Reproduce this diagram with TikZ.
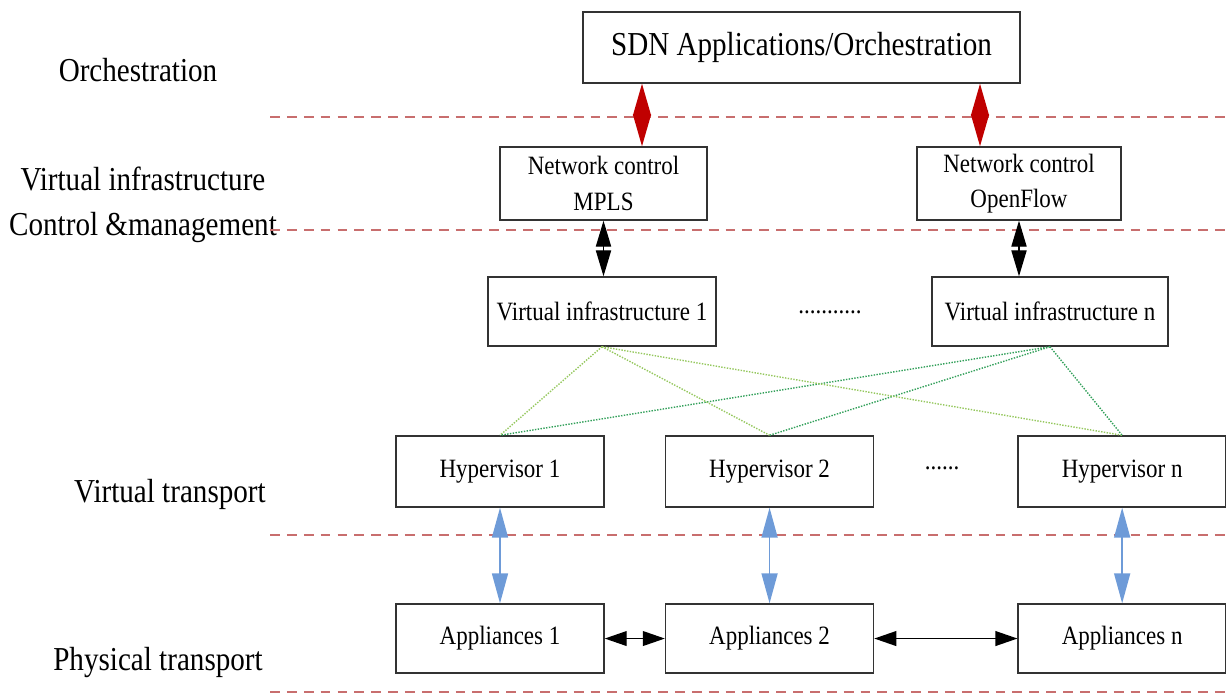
\documentclass[tikz,border=0pt]{standalone}
\usepackage{fontspec}
\setmainfont{Liberation Serif}[FakeStretch=0.87]
\usetikzlibrary{positioning, arrows.meta}
\definecolor{sepred}{RGB}{200,110,110}
\definecolor{darkred}{RGB}{192,0,0}
\definecolor{linkblue}{RGB}{110,155,216}
\definecolor{lightgreen}{RGB}{150,200,95}
\definecolor{deepgreen}{RGB}{50,160,90}

\begin{document}
\begin{tikzpicture}[x=0.025cm,y=-0.025cm,on grid]
\tikzstyle{box}=[rectangle,draw=black!80,line width=1pt,inner sep=0pt,align=center,
  font=\fontsize{18.8}{25}\selectfont]
\tikzstyle{layer}=[align=center,font=\fontsize{23.8}{32}\selectfont]
\tikzstyle{sep}=[sepred,line width=1.4pt,dash pattern=on 7pt off 5pt]
\tikzstyle{redlink}=[darkred,line width=1pt,{Triangle[length=0.8cm,width=0.45cm]}-{Triangle[length=0.8cm,width=0.45cm]}]
\tikzstyle{blacklink}=[black,line width=1pt,{Triangle[length=0.65cm,width=0.38cm]}-{Triangle[length=0.65cm,width=0.38cm]}]
\tikzstyle{bluelink}=[linkblue,line width=1.2pt,{Triangle[length=0.75cm,width=0.4cm]}-{Triangle[length=0.75cm,width=0.4cm]}]
\tikzstyle{applink}=[black,line width=1pt,{Triangle[length=0.55cm,width=0.37cm]}-{Triangle[length=0.55cm,width=0.37cm]}]
\tikzstyle{vlink}=[line width=1pt,densely dotted]

\useasboundingbox (0,0) rectangle (1226,695);

%--- layer labels ---
\node[layer] (orch) at (138,70) {Orchestration};
\node[layer] (vic) at (143,205) {Virtual infrastructure\\Control \&management};
\node[layer] (vt) at (170,494) {Virtual transport};
\node[layer] (pt) at (158,662) {Physical transport};

%--- separators ---
\draw[sep] (270,117) -- (1226,117);
\draw[sep] (270,230) -- (1226,230);
\draw[sep] (270,535) -- (1226,535);
\draw[sep] (270,692) -- (1226,692);

%--- nodes ---
\node[box,minimum width=10.925cm,minimum height=1.775cm,font=\fontsize{23.8}{25}\selectfont] (sdn) at (801.5,47.5) {SDN Applications/Orchestration};
\node[box,minimum width=5.175cm,minimum height=1.825cm] (nc1) at (603.5,183.5) {Network control\\MPLS};
\node[box,minimum width=5.1cm,minimum height=1.825cm] (nc2) at (1019,183.5) {Network control\\OpenFlow};
\node[box,minimum width=5.7cm,minimum height=1.725cm] (vi1) at (602,311.5) {Virtual infrastructure 1};
\node[box,minimum width=5.9cm,minimum height=1.725cm] (vin) at (1050,311.5) {Virtual infrastructure n};
\node[font=\fontsize{18.8}{20}\selectfont] (dots1) at (830,312) {...........};

\node[box,minimum width=5.2cm,minimum height=1.775cm] (h1) at (500,471.5) {Hypervisor 1};
\node[box,minimum width=5.2cm,minimum height=1.775cm] (h2) [right=6.7375cm of h1] {Hypervisor 2};
\node[box,minimum width=5.2cm,minimum height=1.775cm] (hn) [right=8.8125cm of h2] {Hypervisor n};
\node[font=\fontsize{18.8}{20}\selectfont] (dots2) at (942,468) {......};

\node[box,minimum width=5.2cm,minimum height=1.725cm] (a1) [below=4.175cm of h1] {Appliances 1};
\node[box,minimum width=5.2cm,minimum height=1.725cm] (a2) [below=4.175cm of h2] {Appliances 2};
\node[box,minimum width=5.2cm,minimum height=1.725cm] (an) [below=4.175cm of hn] {Appliances n};

%--- control links ---
\coordinate (r1) at (642,0);
\coordinate (r2) at (980,0);
\draw[redlink] (sdn.south -| r1) -- (nc1.north -| r1);
\draw[redlink] (sdn.south -| r2) -- (nc2.north -| r2);
\draw[blacklink] (nc1.south) -- (vi1.north -| nc1.south);
\draw[blacklink] (nc2.south) -- (vin.north -| nc2.south);

%--- virtual links ---
\foreach \h in {h1,h2,hn}{
  \draw[vlink,lightgreen] (vi1.south) -- (\h.north);
  \draw[vlink,deepgreen] (vin.south) -- (\h.north);
}

%--- transport links ---
\path[bluelink]
  (h1) edge (a1)
  (h2) edge (a2)
  (hn) edge (an);
\draw[applink] (a1.east) -- (a2.west);
\draw[applink] (a2.east) -- (an.west);

\end{tikzpicture}
\end{document}
